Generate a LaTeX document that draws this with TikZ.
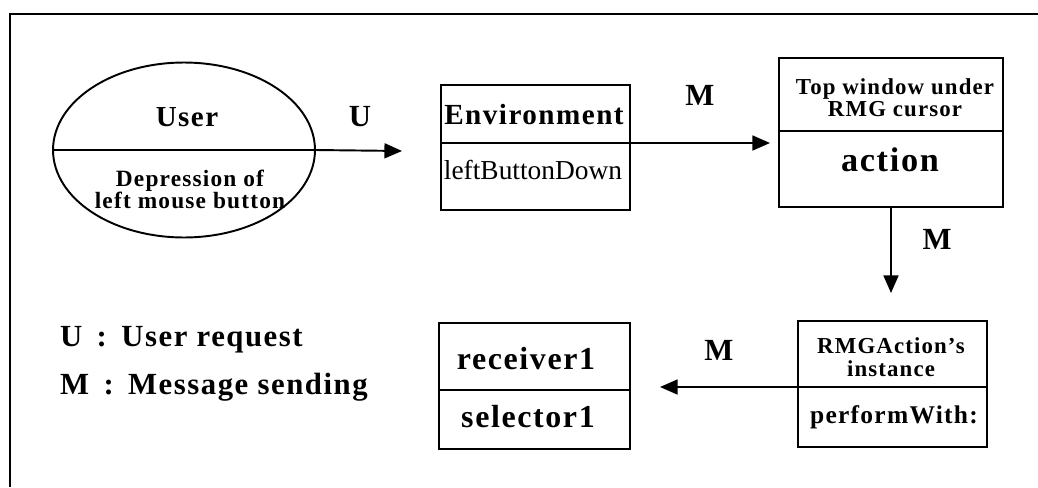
\documentclass[tikz,border=0pt]{standalone}
\usepackage{fontspec}
\setmainfont{Liberation Serif}[LetterSpace=5]
\newfontfamily\condfont{Liberation Serif}
\usetikzlibrary{shapes.geometric, arrows.meta, positioning}
\newcommand{\fsz}[2]{\fontsize{#1}{#2}\selectfont}

\begin{document}
\begin{tikzpicture}[
    x=0.02cm, y=-0.02cm,
    font=\bfseries,
    % Node styles
    part/.style={rectangle, draw, line width=1.1pt, inner sep=0pt, outer sep=0pt},
    actor/.style={ellipse, draw, line width=1.1pt, inner sep=0pt, outer sep=0pt, minimum width=5.24cm, minimum height=3.5cm},
    msgtag/.style={font=\bfseries\fsz{17.5}{17.5}},
    msgarrow/.style={-{Triangle[length=10pt, width=8.5pt]}, line width=1.1pt},
]
\useasboundingbox (0,0) rectangle (1038,487);

% Frame
\draw[line width=1pt] (10,487) -- (10,14) -- (1038,14);

% User
\node[actor] (user) at (184,150) {};
\draw[line width=1.1pt] (user.west) -- (user.east);
\node[font=\bfseries\fsz{16.5}{16.5}] (usertxt) at (187,117) {User};
\node[font=\bfseries\fsz{13.3}{12.5}, align=center] (press) at (190,189) {Depression of\\left mouse button};

% Environment
\node[part, minimum width=3.78cm, minimum height=1.16cm] (envtop) at (535.5,114) {};
\node[part, minimum width=3.78cm, minimum height=1.34cm] (envlow) at (535.5,176.5) {};
\node[font=\bfseries\fsz{16.6}{16.6}] (envtxt) at (534,115) {Environment};
\node[font=\condfont\fsz{15.6}{15.6}] (lbdtxt) at (533,170) {leftButtonDown};

% Top window under RMG cursor
\node[part, minimum width=4.48cm, minimum height=1.46cm] (wintop) at (891,94.5) {};
\node[part, minimum width=4.48cm, minimum height=1.52cm] (winlow) at (891,169) {};
\node[font=\bfseries\fsz{13}{12.5}, align=center] (wintxt) at (895,98) {Top window under\\RMG cursor};
\node[font=\bfseries\fsz{19.5}{19.5}] (acttxt) at (890,160) {action};

% RMGAction's instance
\node[part, minimum width=3.78cm, minimum height=1.32cm] (insttop) at (892.5,354) {};
\node[part, minimum width=3.78cm, minimum height=1.2cm] (instlow) at (892.5,417) {};
\node[font=\bfseries\fsz{13}{13}, align=center] (insttxt) at (891,357) {RMGAction's\\instance};
\node[font=\bfseries\fsz{14.5}{14.5}] (perftxt) at (894,417) {performWith:};

% receiver / selector
\node[part, minimum width=3.82cm, minimum height=1.34cm] (rectop) at (534.5,356.5) {};
\node[part, minimum width=3.82cm, minimum height=1.18cm] (reclow) at (534.5,419.5) {};
\node[font=\bfseries\fsz{18.2}{18.2}] (rectxt) at (526,359) {receiver1};
\node[font=\bfseries\fsz{18.2}{18.2}] (seltxt) at (528,417) {selector1};

% Message arrows
\coordinate (uend) at (402,151);
\coordinate (m1end) at (770,143);
\coordinate (m2end) at (891,293);
\coordinate (m3end) at (660,387);
\draw[msgarrow] (user.east) -- (uend);
\draw[msgarrow] (envtop.south east) -- (m1end);
\draw[msgarrow] (winlow.south) -- (m2end);
\draw[msgarrow] (insttop.south west) -- (m3end);
\node[msgtag] (utag) at (360,117) {U};
\node[msgtag] (m1tag) at (700,95) {M};
\node[msgtag] (m2tag) at (937,239) {M};
\node[msgtag] (m3tag) at (719,350) {M};

% Legend
\node[anchor=west, font=\bfseries\fsz{17.5}{17.5}] (keyu) at (54,340) {U~\,:~\,User request};
\node[anchor=west, font=\bfseries\fsz{17.5}{17.5}] (keym) at (54,387) {M~\,:~\,Message sending};

\end{tikzpicture}
\end{document}
